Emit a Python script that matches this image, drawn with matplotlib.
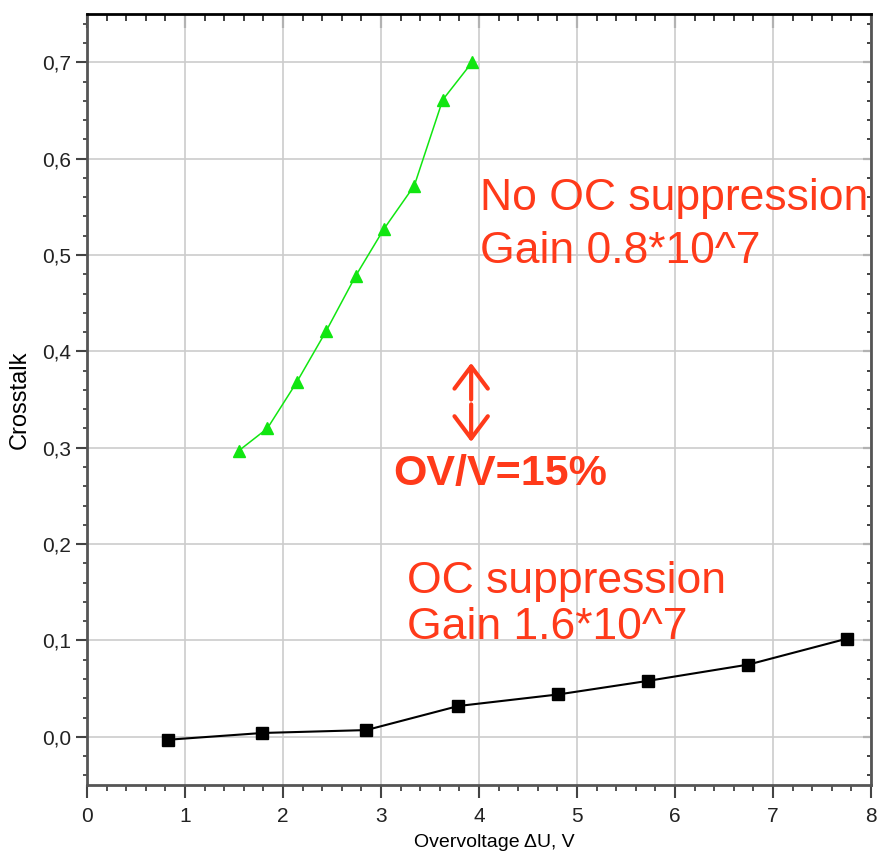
import numpy as np
import matplotlib.pyplot as plt
from matplotlib.ticker import MultipleLocator, FuncFormatter

plt.rcParams['font.family'] = ['Liberation Sans', 'DejaVu Sans']

# No OC suppression (green triangles)
v_no_oc = [1.55, 1.84, 2.14, 2.44, 2.74, 3.03, 3.34, 3.63, 3.93]
ct_no_oc = [0.297, 0.320, 0.368, 0.421, 0.478, 0.527, 0.572, 0.661, 0.700]

# OC suppression (black squares)
v_oc = [0.83, 1.79, 2.85, 3.79, 4.81, 5.72, 6.75, 7.76]
ct_oc = [-0.003, 0.004, 0.007, 0.032, 0.044, 0.058, 0.075, 0.102]

red = '#ff3a1a'
green = '#11e611'

fig = plt.figure(figsize=(8.78, 8.57), dpi=100)
ax = fig.add_axes([0.0991, 0.084, 0.8929, 0.8996])

ax.plot(v_no_oc, ct_no_oc, color=green, lw=1.1, marker='^', markersize=9, zorder=3)
ax.plot(v_oc, ct_oc, color='black', lw=1.5, marker='s', markersize=8.5, zorder=3)

ax.set_xlim(0, 8)
ax.set_ylim(-0.05, 0.75)

# ticks and grid
ax.xaxis.set_major_locator(MultipleLocator(1))
ax.xaxis.set_minor_locator(MultipleLocator(0.2))
ax.yaxis.set_major_locator(MultipleLocator(0.1))
ax.yaxis.set_minor_locator(MultipleLocator(0.02))
ax.yaxis.set_major_formatter(FuncFormatter(lambda v, p: ('%.1f' % v).replace('.', ',').replace('-0,0', '0,0')))
ax.grid(True, which='major', color='#cccccc', lw=1.2)
ax.set_axisbelow(True)

ax.tick_params(which='major', direction='out', length=8, width=1.5, color='#444444',
               labelsize=15, labelcolor='#222222')
ax.tick_params(which='minor', direction='out', length=3, width=1.3, color='#444444')
ax.tick_params(axis='x', which='major', length=9, pad=7)
ax.tick_params(axis='x', which='minor', length=4)

for side in ['left', 'bottom', 'right']:
    ax.spines[side].set_color('#555555')
    ax.spines[side].set_linewidth(2)
ax.spines['top'].set_color('black')
ax.spines['top'].set_linewidth(2)

# inward ticks on top and right
top = ax.secondary_xaxis('top')
top.xaxis.set_major_locator(MultipleLocator(1))
top.xaxis.set_minor_locator(MultipleLocator(0.2))
top.tick_params(which='major', direction='in', length=10, width=1.5, color='#333333', labeltop=False)
top.tick_params(which='minor', direction='in', length=5, width=1.3, color='#333333')
top.spines['top'].set_visible(False)

right = ax.secondary_yaxis('right')
right.yaxis.set_major_locator(MultipleLocator(0.1))
right.yaxis.set_minor_locator(MultipleLocator(0.02))
right.tick_params(which='major', direction='in', length=6, width=1.5, color='#333333', labelright=False)
right.tick_params(which='minor', direction='in', length=3, width=1.3, color='#333333')
right.spines['right'].set_visible(False)

ax.set_xlabel('Overvoltage \u0394U, V', fontsize=14)
ax.xaxis.set_label_coords(0.52, -0.063)
ax.set_ylabel('Crosstalk', fontsize=17, labelpad=8)

# annotations
ax.text(4.01, 0.547, 'No OC suppression', color=red, fontsize=32, va='baseline')
ax.text(4.01, 0.492, 'Gain 0.8*10^7', color=red, fontsize=32, va='baseline')
ax.text(3.27, 0.149, 'OC suppression', color=red, fontsize=32, va='baseline')
ax.text(3.27, 0.101, 'Gain 1.6*10^7', color=red, fontsize=32, va='baseline')
ax.text(3.12, 0.261, 'OV/V=15%', color=red, fontsize=31, fontweight='bold', va='baseline')

ax.annotate('', xy=(3.92, 0.388), xytext=(3.92, 0.350),
            arrowprops=dict(arrowstyle='->,head_length=0.8,head_width=0.6', color=red, lw=3,
                            mutation_scale=20, shrinkA=0, shrinkB=0))
ax.annotate('', xy=(3.92, 0.306), xytext=(3.92, 0.345),
            arrowprops=dict(arrowstyle='->,head_length=0.8,head_width=0.6', color=red, lw=3,
                            mutation_scale=20, shrinkA=0, shrinkB=0))

plt.savefig('out.png', dpi=100)
